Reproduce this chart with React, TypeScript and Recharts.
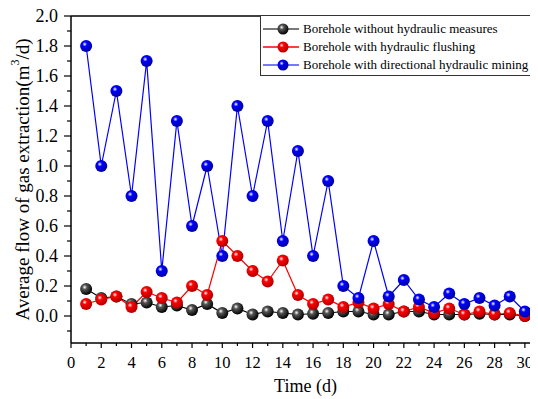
import { LineChart, Line, XAxis, YAxis, ReferenceLine, Legend } from "recharts";

const days = [1, 2, 3, 4, 5, 6, 7, 8, 9, 10, 11, 12, 13, 14, 15, 16, 17, 18, 19, 20, 21, 22, 23, 24, 25, 26, 27, 28, 29, 30];

const withoutMeasures = [0.18, 0.12, 0.13, 0.08, 0.09, 0.06, 0.07, 0.04, 0.08, 0.02, 0.05, 0.01, 0.03, 0.02, 0.01, 0.015, 0.02, 0.03, 0.03, 0.01, 0.01, 0.03, 0.03, 0.01, 0.01, 0.01, 0.015, 0.01, 0.01, 0.0];
const hydraulicFlushing = [0.08, 0.11, 0.13, 0.06, 0.16, 0.12, 0.09, 0.2, 0.14, 0.5, 0.4, 0.3, 0.23, 0.37, 0.14, 0.08, 0.11, 0.06, 0.09, 0.05, 0.08, 0.03, 0.06, 0.02, 0.05, 0.01, 0.03, 0.01, 0.02, 0.0];
const directionalMining = [1.8, 1.0, 1.5, 0.8, 1.7, 0.3, 1.3, 0.6, 1.0, 0.4, 1.4, 0.8, 1.3, 0.5, 1.1, 0.4, 0.9, 0.2, 0.12, 0.5, 0.13, 0.24, 0.11, 0.06, 0.15, 0.08, 0.12, 0.07, 0.13, 0.03];

const seriesNames = [
    "Borehole without hydraulic measures",
    "Borehole with hydraulic flushing",
    "Borehole with directional hydraulic mining",
];
const seriesColors = ["#000000", "#ff0000", "#0000ff"];
const seriesKeys = ["none", "flush", "mining"];

const xTicks = [0, 1, 2, 3, 4, 5, 6, 7, 8, 9, 10, 11, 12, 13, 14, 15, 16, 17, 18, 19, 20, 21, 22, 23, 24, 25, 26, 27, 28, 29, 30];
const yTicks = [-0.1, 0.0, 0.1, 0.2, 0.3, 0.4, 0.5, 0.6, 0.7, 0.8, 0.9, 1.0, 1.1, 1.2, 1.3, 1.4, 1.5, 1.6, 1.7, 1.8, 1.9, 2.0];

const data = days.map((d, i) => ({
    day: d,
    none: withoutMeasures[i],
    flush: hydraulicFlushing[i],
    mining: directionalMining[i],
}));

const font = "Liberation Serif";

const XTick = (props: any) => {
    const { x, y, payload } = props;
    const major = payload.value % 2 === 0;
    return (
        <g>
            <line x1={x} x2={x} y1={y} y2={y + (major ? 5 : 3)} stroke="#000" strokeWidth={1.2} />
            {major && (
                <text x={x} y={y + 25} textAnchor="middle" style={{ fontFamily: font }} fontSize={16.5} fill="#000">
                    {payload.value}
                </text>
            )}
        </g>
    );
};

const YTick = (props: any) => {
    const { x, y, payload } = props;
    const idx = Math.round(payload.value * 10);
    const major = idx % 2 === 0;
    return (
        <g>
            <line x1={x - (major ? 7 : 4)} x2={x} y1={y} y2={y} stroke="#000" strokeWidth={1.2} />
            {major && (
                <text x={x - 13} y={y + 6} textAnchor="end" style={{ fontFamily: font }} fontSize={18} fill="#000">
                    {payload.value.toFixed(1)}
                </text>
            )}
        </g>
    );
};

const makeDot = (i: number) => (props: any) => {
    const { cx, cy, index } = props;
    if (cx == null || cy == null) return <g key={index} />;
    return <circle key={index} cx={cx} cy={cy} r={6} fill={`url(#ball${i})`} />;
};

const YLabel = (props: any) => {
    const vb = props.viewBox;
    const cx = 22;
    const cy = vb.y + vb.height / 2;
    return (
        <text
            x={cx}
            y={cy}
            transform={`rotate(-90 ${cx} ${cy})`}
            textAnchor="middle"
            dominantBaseline="central"
            style={{ fontFamily: font }}
            fontSize={19}
            fill="#000"
        >
            Average flow of gas extraction(m<tspan dy={-7} fontSize={12}>3</tspan>
            <tspan dy={7}>/d)</tspan>
        </text>
    );
};

const XLabel = (props: any) => {
    const vb = props.viewBox;
    return (
        <text
            x={vb.x + vb.width / 2}
            y={392}
            textAnchor="middle"
            style={{ fontFamily: font }}
            fontSize={18}
            fill="#000"
        >
            Time (d)
        </text>
    );
};

const LegendBox = () => (
    <div
        style={{
            border: "1.5px solid #333",
            background: "#fff",
            padding: "4px 0 2px 0",
            boxSizing: "border-box",
            width: 274,
            height: 61,
        }}
    >
        {seriesNames.map((name, i) => (
            <div key={name} style={{ display: "flex", alignItems: "center", height: 18 }}>
                <svg width={40} height={14} style={{ flex: "none" }}>
                    <line x1={2} x2={38} y1={7} y2={7} stroke={seriesColors[i]} strokeWidth={1.5} opacity={i === 1 ? 1 : 0.7} />
                    <circle cx={22} cy={7} r={5.5} fill={`url(#ball${i})`} />
                </svg>
                <span style={{ fontFamily: font, fontSize: 13, color: "#000", marginLeft: 2, whiteSpace: "nowrap" }}>
                    {name}
                </span>
            </div>
        ))}
    </div>
);

export default function App() {
    return (
        <div style={{ margin: "-8px 0 0 -8px", width: 538, height: 399, overflow: "hidden", position: "relative" }}>
            <LineChart
                width={546}
                height={399}
                data={data}
                margin={{ top: 16, right: 6, left: 0, bottom: 0 }}
            >
                <defs>
                    {seriesColors.map((c, i) => (
                        <radialGradient key={c} id={`ball${i}`} cx="38%" cy="35%" r="65%">
                            <stop offset="0%" stopColor="#ffffff" />
                            <stop offset="30%" stopColor={i === 0 ? "#555555" : c} />
                            <stop offset="100%" stopColor={i === 0 ? "#000000" : i === 1 ? "#b00000" : "#0000a0"} />
                        </radialGradient>
                    ))}
                </defs>
                <XAxis
                    dataKey="day"
                    type="number"
                    domain={[0, 31]}
                    ticks={xTicks}
                    interval={0}
                    height={56}
                    tickSize={0}
                    tickMargin={0}
                    tick={<XTick />}
                    axisLine={{ stroke: "#000", strokeWidth: 1.5 }}
                    label={<XLabel />}
                />
                <YAxis
                    type="number"
                    domain={[-0.18, 2.0]}
                    ticks={yTicks}
                    interval={0}
                    width={71}
                    tickSize={0}
                    tickMargin={0}
                    tick={<YTick />}
                    axisLine={{ stroke: "#000", strokeWidth: 1.5 }}
                    label={<YLabel />}
                    allowDataOverflow
                />
                <ReferenceLine y={2.0} stroke="#000" strokeWidth={1.5} />
                <Legend
                    layout="vertical"
                    align="center"
                    verticalAlign="middle"
                    content={<LegendBox />}
                    wrapperStyle={{ left: 260, top: 15, width: 274, height: 61 }}
                />
                {seriesKeys.map((k, i) => (
                    <Line
                        key={k}
                        dataKey={k}
                        name={seriesNames[i]}
                        type="linear"
                        stroke={seriesColors[i]}
                        strokeWidth={1.2}
                        dot={makeDot(i)}
                        activeDot={false}
                        isAnimationActive={false}
                    />
                ))}
            </LineChart>
        </div>
    );
}
